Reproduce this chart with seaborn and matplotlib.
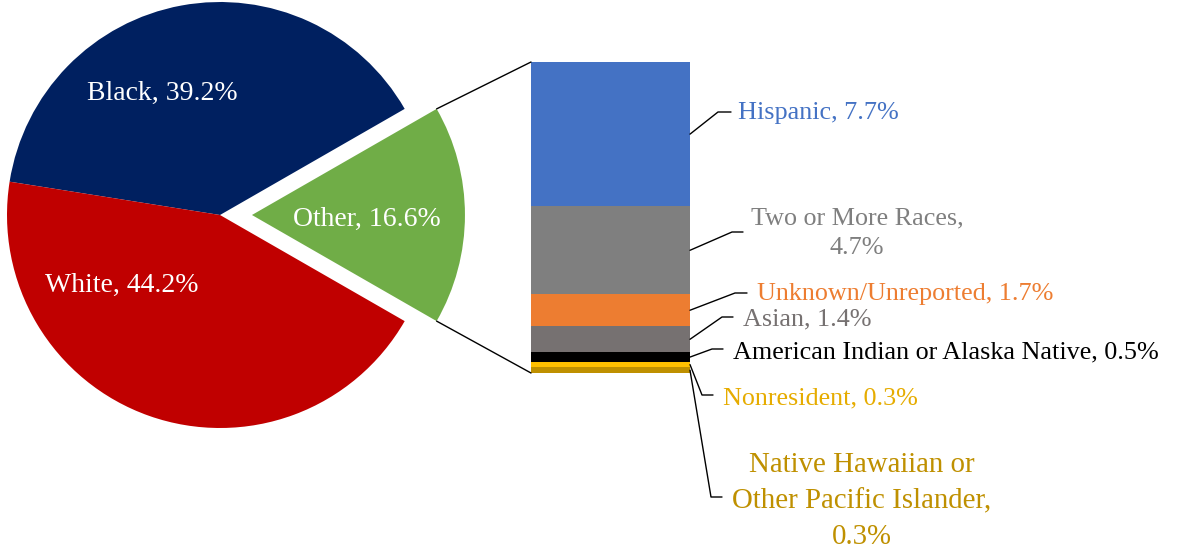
import matplotlib
matplotlib.use('Agg')
import matplotlib.pyplot as plt
from matplotlib.lines import Line2D
from matplotlib.patches import ConnectionPatch
import numpy as np
import pandas as pd
import seaborn as sns

# pie data
pie_labels = ['Other', 'Black', 'White']
pie_values = [16.6, 39.2, 44.2]
pie_colors = ['#70AD47', '#002060', '#C00000']

# breakdown of "Other", top of the bar first
bar_labels = ['Hispanic', 'Two or More Races', 'Unknown/Unreported', 'Asian',
              'American Indian or Alaska Native', 'Nonresident',
              'Native Hawaiian or Other Pacific Islander']
bar_values = [7.7, 4.7, 1.7, 1.4, 0.5, 0.3, 0.3]
bar_colors = ['#4472C4', '#7F7F7F', '#ED7D31', '#767171', '#000000', '#FFC000', '#BF9000']
text_colors = ['#4472C4', '#7F7F7F', '#ED7D31', '#767171', '#000000', '#E6AC00', '#BF9000']
bar_texts = ['Hispanic, 7.7%', 'Two or More Races,\n4.7%', 'Unknown/Unreported, 1.7%',
             'Asian, 1.4%', 'American Indian or Alaska Native, 0.5%', 'Nonresident, 0.3%',
             'Native Hawaiian or\nOther Pacific Islander,\n0.3%']

sns.set_style('white')
plt.rcParams['font.family'] = ['Liberation Serif', 'DejaVu Serif']

W, H = 1178, 550
fig = plt.figure(figsize=(W / 100, H / 100), dpi=100)

def px(x, y):
    # top-left pixel -> figure fraction
    return x / W, 1 - y / H

# ---------------- pie ----------------
R = 213.0
cx, cy = 220.0, 335.0
x0, x1, y0, y1 = -1.03, 1.40, -1.03, 1.03
axp = fig.add_axes([(cx + x0 * R) / W, (cy + y0 * R) / H, (x1 - x0) * R / W, (y1 - y0) * R / H])
total = sum(pie_values)
start = -pie_values[0] / total * 360 / 2
explode = 0.15
axp.pie(pie_values, colors=pie_colors, startangle=start, counterclock=True,
        explode=[explode, 0, 0], radius=1, wedgeprops=dict(linewidth=0))
axp.set_xlim(x0, x1)
axp.set_ylim(y0, y1)
axp.axis('off')

pie_pos = {'Black': (-0.27, 0.57), 'White': (-0.46, -0.33), 'Other': (0.69, -0.02)}
for lab, val in zip(pie_labels, pie_values):
    axp.text(*pie_pos[lab], f'{lab}, {val}%', color='white', fontsize=20,
             ha='center', va='center')

# ---------------- stacked bar ----------------
other = pie_values[0]
axb = fig.add_axes([531 / W, 177 / H, 159 / W, 311 / H])
tops = np.cumsum(bar_values[::-1])[::-1]
df = pd.DataFrame({'grp': ['Other'] * len(bar_labels), 'top': tops, 'seg': bar_labels})
sns.barplot(data=df, x='grp', y='top', hue='seg', hue_order=bar_labels,
            palette=bar_colors, dodge=False, width=0.8, saturation=1,
            errorbar=None, legend=False, linewidth=0, ax=axb)
axb.set_xlim(-0.4, 0.4)
axb.set_ylim(0, other)
axb.axis('off')

# connectors pie -> bar
a = np.deg2rad(pie_values[0] / total * 360 / 2)
for sgn, ybar in [(1, other), (-1, 0)]:
    con = ConnectionPatch(xyA=(explode + np.cos(a), sgn * np.sin(a)), coordsA=axp.transData,
                          xyB=(-0.4, ybar), coordsB=axb.transData, color='black', lw=1)
    fig.add_artist(con)

# leader lines and labels: elbow x, elbow y, end x, text x, text y, align
leaders = [
    (718, 112, 731, 738, 113, 'left'),
    (732, 232, 743, 857, 233, 'center'),
    (735, 293, 747, 757, 294, 'left'),
    (722, 317, 733, 743, 319, 'left'),
    (712, 349, 723, 733, 352, 'left'),
    (702, 395, 713, 723, 398, 'left'),
    (711, 497, 722, 862, 501, 'center'),
]
mids = tops - np.array(bar_values) / 2
for i, (ex, ey, endx, tx, ty, ha) in enumerate(leaders):
    sx, sy = axb.transData.transform((0.4, mids[i]))
    sy = H - sy
    xs, ys = zip(px(sx, sy), px(ex, ey), px(endx, ey))
    fig.add_artist(Line2D(xs, ys, color='black', lw=1, transform=fig.transFigure))
    fs = 20.8 if i == 6 else 18.8
    ls = 1.5 if i == 6 else 1.45
    fig.text(*px(tx, ty), bar_texts[i], color=text_colors[i], fontsize=fs,
             ha=ha, va='center', multialignment='center', linespacing=ls)

fig.savefig('out.png', dpi=100)
